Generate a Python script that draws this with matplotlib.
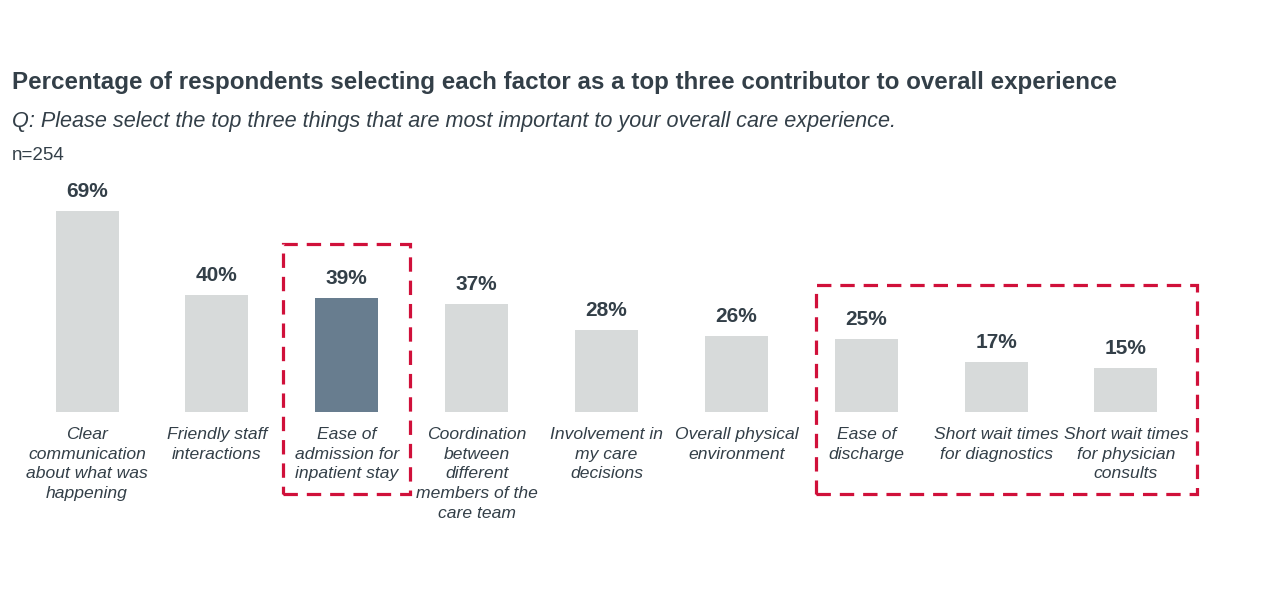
import matplotlib.pyplot as plt
from matplotlib.patches import Rectangle

plt.rcParams['font.family'] = ['Liberation Sans', 'DejaVu Sans']

categories = [
    "Clear\ncommunication\nabout what was\nhappening",
    "Friendly staff\ninteractions",
    "Ease of\nadmission for\ninpatient stay",
    "Coordination\nbetween\ndifferent\nmembers of the\ncare team",
    "Involvement in\nmy care\ndecisions",
    "Overall physical\nenvironment",
    "Ease of\ndischarge",
    "Short wait times\nfor diagnostics",
    "Short wait times\nfor physician\nconsults",
]
values = [69, 40, 39, 37, 28, 26, 25, 17, 15]
highlight = 2
groups = [[2], [6, 7, 8]]

title = "Percentage of respondents selecting each factor as a top three contributor to overall experience"
subtitle = "Q: Please select the top three things that are most important to your overall care experience."
note = "n=254"

text_col = "#333f48"
grey = "#d7dada"
slate = "#687d8f"
red = "#d0103a"

fig = plt.figure(figsize=(12.8, 6.03), dpi=100)
ax = fig.add_axes([0, 191 / 603, 1, 412 / 603])
ax.set_xlim(-0.67, 9.186)
ax.set_ylim(0, 141.1)
ax.axis('off')

x = list(range(len(values)))
colors = [slate if i == highlight else grey for i in x]
ax.bar(x, values, width=0.485, color=colors)

for i, v in enumerate(values):
    ax.text(i, v + 3.4, f"{v}%", ha='center', va='bottom', fontsize=15,
            fontweight='bold', color=text_col)
    ax.text(i, -5.0, categories[i], ha='center', va='top', fontsize=12.6,
            style='italic', color=text_col, linespacing=1.41, clip_on=False)

# dashed boxes round the highlighted groups
pads = {1: (0.49, 0.49), 3: (0.39, 0.55)}
for g in groups:
    lp, rp = pads[len(g)]
    x0 = g[0] - lp
    x1 = g[-1] + rp
    top = max(values[i] for i in g) + 18.5
    rect = Rectangle((x0, -28.1), x1 - x0, top + 28.1, fill=False,
                     edgecolor=red, linewidth=2.3, linestyle=(0, (4.5, 2.8)),
                     clip_on=False)
    ax.add_patch(rect)

fig.text(12 / 1280, 1 - 83 / 603, title, fontsize=17.4, fontweight='bold',
         color=text_col, ha='left', va='center')
fig.text(12 / 1280, 1 - 121 / 603, subtitle, fontsize=15.6, style='italic',
         color=text_col, ha='left', va='center')
fig.text(12 / 1280, 1 - 156 / 603, note, fontsize=13.5, color=text_col,
         ha='left', va='center')

fig.savefig("out.png", dpi=100)
